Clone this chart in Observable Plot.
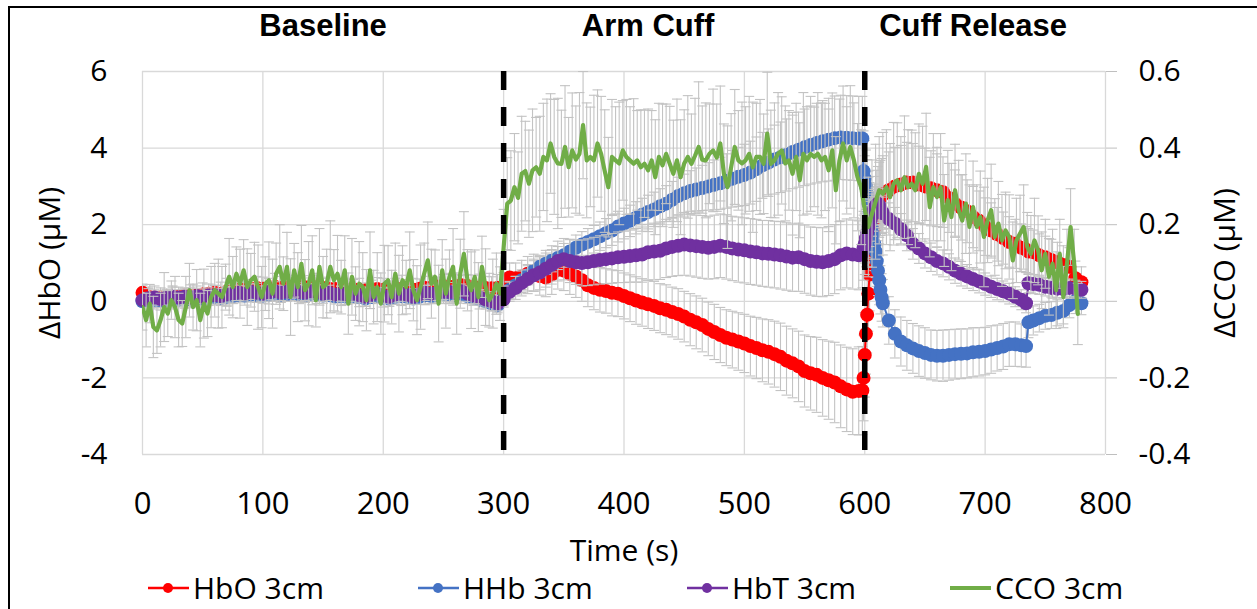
<!DOCTYPE html>
<html>
<head>
<meta charset="utf-8">
<script src="https://cdn.jsdelivr.net/npm/d3@7"></script>
<script src="https://cdn.jsdelivr.net/npm/@observablehq/plot@0.6"></script>
<style>
html,body{margin:0;padding:0;background:#fff;overflow:hidden;}
#wrap{position:relative;width:1257px;height:609px;overflow:hidden;background:#fff;}
#chart{position:absolute;left:0;top:0;}
#frame{position:absolute;left:8px;top:6px;width:1400px;height:900px;border-left:2px solid #000;border-top:2px solid #000;pointer-events:none;}
#legend{position:absolute;left:0;top:573px;width:1257px;height:34px;font-family:"Open Sans",sans-serif;font-size:30px;line-height:30px;color:#000;}
</style>
</head>
<body>
<div id="wrap"><div id="chart"></div><div id="frame"></div><div id="legend"></div></div>
<script>
// ---------- categories / ticks ----------
const xTicks = [0,100,200,300,400,500,600,700,800];
const yTicks = [-4,-2,0,2,4,6];
const phaseLabels = ["Baseline","Arm Cuff","Cuff Release"];
const phaseCenters = [150,420,690];
const eventTimes = [300,600];
const seriesNames = ["HbO 3cm","HHb 3cm","HbT 3cm","CCO 3cm"];
const seriesColors = ["#ff0000","#4472c4","#7030a0","#70ad47"];

// ---------- time (s) of haemoglobin samples ----------
const tHb = [
0,5,10,15,20,25,30,35,40,45,
50,55,60,65,70,75,80,85,90,95,
100,105,110,115,120,125,130,135,140,145,
150,155,160,165,170,175,180,185,190,195,
200,205,210,215,220,225,230,235,240,245,
250,255,260,265,270,275,280,285,290,295,
300,305,310,315,320,325,330,335,340,345,
350,355,360,365,370,375,380,385,390,395,
400,405,410,415,420,425,430,435,440,445,
450,455,460,465,470,475,480,485,490,495,
500,505,510,515,520,525,530,535,540,545,
550,555,560,565,570,575,580,585,590,595,
598,599,600,601,602,603,604,605,606,607,608,609,610,611,612,613,614,615,
620,625,630,635,640,645,650,655,660,665,670,675,680,685,690,695,700,705,710,715,720,725,730,
734,736,740,745,750,755,760,765,770,775,780];

// ---------- ΔHbO (μM) ----------
const hboVal = [
0.22,0.12,0.1,0.1,0.12,0.1,0.12,0.15,0.13,0.15,
0.18,0.2,0.22,0.2,0.25,0.28,0.3,0.3,0.32,0.35,
0.33,0.35,0.38,0.35,0.36,0.38,0.4,0.37,0.36,0.38,
0.35,0.33,0.32,0.34,0.3,0.32,0.3,0.28,0.3,0.32,
0.3,0.28,0.3,0.33,0.32,0.3,0.33,0.35,0.36,0.38,
0.4,0.38,0.4,0.42,0.4,0.38,0.36,0.35,0.34,0.35,
0.4,0.62,0.6,0.65,0.72,0.75,0.66,0.62,0.7,0.82,
0.8,0.72,0.65,0.55,0.42,0.35,0.3,0.27,0.22,0.2,
0.14,0.08,0.02,-0.03,-0.08,-0.12,-0.18,-0.22,-0.28,-0.33,
-0.4,-0.48,-0.55,-0.62,-0.72,-0.8,-0.88,-0.95,-1.0,-1.05,
-1.1,-1.17,-1.22,-1.28,-1.32,-1.38,-1.45,-1.55,-1.62,-1.7,
-1.82,-1.88,-1.92,-2.0,-2.06,-2.12,-2.22,-2.3,-2.36,-2.34,
-2.33,-2.0,-1.4,-0.85,-0.35,0.2,0.7,1.2,1.55,1.85,2.1,2.3,2.45,2.55,2.65,2.7,2.75,2.8,
2.9,3.0,3.05,3.1,3.1,3.05,3.0,2.95,2.9,2.85,2.7,2.55,2.45,2.35,2.2,2.1,1.95,1.85,1.75,1.65,1.55,1.5,1.4,
1.35,1.3,1.28,1.2,1.15,1.08,1.02,0.95,0.9,0.6,0.5];
const hboErr = [
0.2,0.25,0.3,0.25,0.2,0.3,0.25,0.2,0.3,0.25,
0.3,0.25,0.2,0.3,0.35,0.25,0.3,0.2,0.25,0.3,
0.3,0.25,0.35,0.3,0.25,0.3,0.2,0.3,0.25,0.3,
0.25,0.3,0.35,0.25,0.3,0.25,0.3,0.2,0.25,0.3,
0.3,0.25,0.3,0.35,0.25,0.3,0.25,0.3,0.3,0.25,
0.3,0.35,0.3,0.25,0.3,0.3,0.35,0.3,0.3,0.35,
0.35,0.38,0.4,0.42,0.45,0.48,0.5,0.5,0.52,0.5,
0.52,0.54,0.55,0.55,0.56,0.57,0.58,0.58,0.6,0.6,
0.6,0.61,0.62,0.62,0.63,0.64,0.64,0.65,0.65,0.66,
0.66,0.68,0.69,0.7,0.7,0.72,0.72,0.73,0.74,0.75,
0.76,0.78,0.8,0.82,0.84,0.86,0.88,0.9,0.9,0.92,
0.94,0.96,0.98,1.0,1.02,1.05,1.08,1.1,1.12,1.15,
1.15,1.12,1.1,1.05,1.0,0.98,0.95,0.95,0.95,0.95,0.96,0.96,0.97,0.97,0.98,0.98,0.98,1.0,
1.0,1.02,1.02,1.05,1.02,1.0,1.0,0.98,0.95,0.92,0.9,0.88,0.85,0.82,0.8,0.78,0.75,0.72,0.7,0.68,0.66,0.64,0.62,
0.6,0.6,0.58,0.56,0.55,0.54,0.52,0.5,0.5,0.45,0.4];

// ---------- ΔHHb (μM) ----------
const hhbVal = [
0.0,0.03,0.04,0.02,0.05,0.06,0.05,0.07,0.05,0.08,
0.07,0.09,0.1,0.09,0.12,0.14,0.16,0.15,0.18,0.17,
0.15,0.18,0.2,0.17,0.19,0.22,0.19,0.17,0.2,0.19,
0.15,0.16,0.13,0.14,0.12,0.14,0.11,0.07,0.11,0.14,
0.1,0.07,0.12,0.14,0.12,0.07,0.12,0.16,0.14,0.16,
0.19,0.18,0.16,0.2,0.14,0.1,0.05,0.0,-0.05,-0.1,
0.1,0.3,0.42,0.55,0.68,0.8,0.9,0.98,1.06,1.13,
1.2,1.3,1.4,1.48,1.55,1.62,1.7,1.78,1.85,1.95,
2.03,2.1,2.18,2.26,2.33,2.4,2.48,2.55,2.65,2.75,
2.82,2.88,2.92,2.96,3.0,3.04,3.08,3.14,3.2,3.25,
3.3,3.36,3.45,3.55,3.62,3.7,3.76,3.82,3.9,3.96,
4.02,4.08,4.13,4.18,4.22,4.26,4.28,4.27,4.26,4.25,
4.25,3.4,3.2,3.0,2.8,2.55,2.3,2.05,1.9,1.75,1.5,1.3,1.05,0.8,0.55,0.3,0.1,-0.05,
-0.5,-0.85,-1.05,-1.15,-1.23,-1.3,-1.35,-1.4,-1.42,-1.42,-1.4,-1.38,-1.37,-1.36,-1.33,-1.32,-1.3,-1.26,-1.22,-1.18,-1.12,-1.12,-1.15,
-1.17,-0.55,-0.5,-0.44,-0.38,-0.36,-0.3,-0.25,-0.1,0.0,-0.05];
const hhbErr = [
0.2,0.15,0.2,0.25,0.2,0.15,0.2,0.25,0.2,0.2,
0.25,0.2,0.15,0.2,0.25,0.2,0.2,0.25,0.2,0.15,
0.2,0.25,0.2,0.2,0.15,0.2,0.25,0.2,0.2,0.25,
0.2,0.15,0.2,0.25,0.2,0.2,0.25,0.2,0.15,0.2,
0.25,0.2,0.2,0.25,0.2,0.15,0.2,0.25,0.2,0.2,
0.25,0.2,0.2,0.25,0.2,0.2,0.25,0.2,0.2,0.2,
0.2,0.22,0.23,0.24,0.25,0.26,0.27,0.28,0.29,0.3,
0.31,0.32,0.33,0.34,0.35,0.36,0.37,0.38,0.39,0.4,
0.4,0.41,0.42,0.43,0.44,0.45,0.46,0.47,0.48,0.49,
0.5,0.53,0.56,0.59,0.62,0.65,0.68,0.71,0.74,0.77,
0.8,0.82,0.84,0.86,0.88,0.9,0.92,0.94,0.96,0.98,
1.0,1.02,1.04,1.06,1.08,1.1,1.1,1.1,1.1,1.1,
1.1,1.05,1.0,0.95,0.9,0.85,0.8,0.78,0.75,0.72,0.7,0.68,0.66,0.65,0.64,0.63,0.62,0.62,
0.62,0.63,0.64,0.65,0.65,0.66,0.66,0.65,0.66,0.67,0.66,0.65,0.65,0.64,0.64,0.63,0.62,0.62,0.6,0.6,0.58,0.58,0.56,
0.55,0.4,0.38,0.36,0.35,0.35,0.34,0.34,0.33,0.32,0.3];

// ---------- ΔHbT (μM) ----------
const hbtVal = [
0.03,0.08,0.1,0.06,0.1,0.12,0.1,0.12,0.1,0.14,
0.12,0.15,0.16,0.14,0.18,0.2,0.22,0.2,0.25,0.22,
0.2,0.24,0.26,0.22,0.25,0.28,0.24,0.22,0.26,0.25,
0.2,0.22,0.18,0.2,0.17,0.2,0.16,0.12,0.17,0.2,
0.15,0.12,0.18,0.2,0.17,0.12,0.18,0.22,0.2,0.22,
0.25,0.24,0.22,0.26,0.2,0.15,0.1,0.05,0.0,-0.05,
0.05,0.25,0.35,0.48,0.58,0.68,0.75,0.85,0.95,1.05,
1.1,1.05,1.02,1.0,1.02,1.05,1.08,1.1,1.12,1.15,
1.16,1.18,1.2,1.22,1.28,1.3,1.32,1.38,1.42,1.45,
1.48,1.46,1.44,1.42,1.4,1.42,1.45,1.42,1.38,1.35,
1.33,1.3,1.28,1.25,1.24,1.22,1.2,1.17,1.14,1.15,
1.1,1.05,1.03,1.02,1.05,1.1,1.2,1.25,1.22,1.2,
1.25,1.4,1.5,1.65,1.8,1.95,2.05,2.15,2.25,2.35,2.42,2.48,2.52,2.55,2.5,2.42,2.35,2.3,
2.15,2.03,1.88,1.72,1.5,1.38,1.25,1.15,1.05,0.99,0.9,0.8,0.72,0.65,0.58,0.52,0.45,0.38,0.32,0.26,0.2,0.12,0.04,
-0.05,0.47,0.45,0.43,0.38,0.35,0.33,0.32,0.35,0.33,0.3];
const hbtErr = [
0.2,0.25,0.2,0.15,0.2,0.25,0.2,0.2,0.25,0.2,
0.15,0.2,0.25,0.2,0.2,0.25,0.2,0.15,0.2,0.25,
0.2,0.2,0.25,0.2,0.15,0.2,0.25,0.2,0.2,0.25,
0.2,0.2,0.15,0.2,0.25,0.2,0.2,0.25,0.2,0.15,
0.2,0.25,0.2,0.2,0.25,0.2,0.15,0.2,0.25,0.2,
0.2,0.25,0.2,0.15,0.2,0.25,0.2,0.2,0.25,0.2,
0.2,0.25,0.3,0.34,0.38,0.42,0.45,0.48,0.5,0.52,
0.54,0.56,0.58,0.6,0.61,0.62,0.63,0.64,0.65,0.66,
0.67,0.68,0.7,0.72,0.73,0.74,0.75,0.76,0.77,0.78,
0.8,0.8,0.81,0.82,0.82,0.83,0.83,0.84,0.84,0.85,
0.85,0.86,0.86,0.86,0.87,0.87,0.88,0.88,0.88,0.89,
0.89,0.89,0.9,0.9,0.9,0.9,0.9,0.9,0.9,0.9,
0.9,0.85,0.8,0.75,0.7,0.66,0.62,0.58,0.55,0.52,0.5,0.48,0.46,0.45,0.44,0.43,0.42,0.42,
0.42,0.42,0.41,0.4,0.4,0.39,0.38,0.37,0.36,0.35,0.34,0.33,0.32,0.31,0.3,0.3,0.29,0.28,0.28,0.27,0.27,0.26,0.26,
0.25,0.25,0.25,0.25,0.24,0.24,0.24,0.23,0.23,0.22,0.22];

// ---------- time (s) of CCO samples ----------
const tCCO = [
0,3,6,9,12,15,18,21,24,27,30,33,36,39,42,45,48,51,54,57,
60,63,66,69,72,75,78,81,84,87,90,93,96,99,102,105,108,111,114,117,
120,123,126,129,132,135,138,141,144,147,150,153,156,159,162,165,168,171,174,177,
180,183,186,189,192,195,198,201,204,207,210,213,216,219,222,225,228,231,234,237,
240,243,246,249,252,255,258,261,264,267,270,273,276,279,282,285,288,291,294,297,
300,303,306,309,312,315,318,321,324,327,330,333,336,339,342,345,348,351,354,357,
360,363,366,369,372,375,378,381,384,387,390,393,396,399,402,405,408,411,414,417,
420,423,426,429,432,435,438,441,444,447,450,453,456,459,462,465,468,471,474,477,
480,483,486,489,492,495,498,501,504,507,510,513,516,519,522,525,528,531,534,537,
540,543,546,549,552,555,558,561,564,567,570,573,576,579,582,585,588,591,594,597,
600,603,606,609,612,615,618,621,624,627,630,633,636,639,642,645,648,651,654,657,
660,663,666,669,672,675,678,681,684,687,690,693,696,699,702,705,708,711,714,717,
720,723,726,729,732,735,738,741,744,747,750,753,756,759,762,765,768,771,774,777];

// ---------- ΔCCO (μM, right axis) ----------
const ccoVal = [
-0.015,-0.049,-0.006,-0.067,-0.076,-0.049,-0.015,-0.032,0.003,-0.015,-0.049,-0.058,-0.015,0.029,
-0.015,0.003,-0.049,-0.006,-0.032,0.011,0.029,0.02,0.011,0.037,0.064,0.037,0.072,0.046,
0.081,0.037,0.055,0.064,0.037,0.011,0.046,0.055,0.02,0.072,0.09,0.046,0.09,0.011,
0.081,0.037,0.098,0.029,0.046,0.081,0.003,0.09,0.037,0.046,0.09,0.055,0.072,0.037,
0.081,-0.006,0.064,0.02,0.046,0.037,0.003,0.081,0.011,0.037,-0.006,0.046,0.055,0.011,
0.072,0.02,0.055,0.037,0.081,0.029,0.003,0.037,0.072,0.107,0.046,0.064,-0.006,0.081,
0.02,0.064,0.09,-0.006,0.072,0.124,0.055,0.029,0.064,0.011,0.09,0.037,0.003,0.02,
0.046,0.02,
0.14,0.255,0.263,0.298,0.27,0.333,0.34,0.307,0.342,0.35,
0.333,0.377,0.368,0.412,0.377,0.36,0.359,0.403,0.35,0.394,
0.37,0.385,0.46,0.368,0.377,0.368,0.412,0.385,0.34,0.298,
0.377,0.368,0.36,0.394,0.377,0.368,0.359,0.368,0.35,0.359,
0.342,0.368,0.324,0.377,0.355,0.385,0.359,0.333,0.368,0.324,
0.36,0.377,0.359,0.38,0.403,0.37,0.368,0.385,0.394,0.375,
0.412,0.333,0.298,0.35,0.403,0.368,0.36,0.368,0.385,0.35,
0.377,0.377,0.359,0.438,0.359,0.368,0.385,0.394,0.36,0.368,
0.333,0.377,0.316,0.385,0.368,0.385,0.377,0.385,0.368,0.377,
0.342,0.394,0.29,0.368,0.412,0.368,0.403,0.368,0.324,0.298,
0.24,0.194,0.229,0.26,0.29,0.281,0.298,0.272,0.307,0.316,
0.29,0.324,0.298,0.307,0.29,0.333,0.307,0.351,0.246,0.298,
0.272,0.298,0.211,0.264,0.22,0.29,0.238,0.211,0.255,0.194,
0.246,0.194,0.22,0.168,0.211,0.238,0.168,0.203,0.159,0.185,
0.168,0.107,0.159,0.177,0.194,0.142,0.124,0.159,0.133,0.081,
0.124,0.064,0.098,0.029,0.124,0.011,0.098,0.194,0.098,-0.033];
const ccoErr = [
0.06,0.07,0.05,0.08,0.06,0.07,0.09,0.06,0.05,0.08,0.07,0.06,0.08,0.07,
0.06,0.08,0.07,0.09,0.06,0.08,0.07,0.09,0.08,0.06,0.1,0.08,0.07,0.09,
0.08,0.1,0.07,0.09,0.11,0.08,0.07,0.1,0.09,0.08,0.11,0.07,0.09,0.1,
0.07,0.09,0.1,0.08,0.11,0.09,0.07,0.1,0.08,0.09,0.12,0.08,0.1,0.07,
0.09,0.08,0.1,0.07,0.11,0.09,0.08,0.1,0.07,0.09,0.08,0.1,0.09,0.07,
0.08,0.1,0.09,0.07,0.1,0.08,0.09,0.11,0.08,0.1,0.09,0.07,0.1,0.08,
0.09,0.07,0.1,0.08,0.09,0.11,0.08,0.1,0.07,0.09,0.08,0.1,0.07,0.09,
0.08,0.07,
0.1,0.12,0.13,0.14,0.12,0.15,0.13,0.14,0.16,0.13,
0.15,0.14,0.16,0.13,0.15,0.17,0.14,0.16,0.13,0.15,
0.14,0.16,0.14,0.15,0.13,0.17,0.14,0.15,0.16,0.13,
0.15,0.14,0.16,0.13,0.15,0.14,0.17,0.13,0.15,0.14,
0.16,0.13,0.15,0.14,0.16,0.13,0.15,0.14,0.16,0.15,
0.14,0.16,0.13,0.15,0.17,0.14,0.15,0.13,0.16,0.14,
0.15,0.13,0.16,0.14,0.15,0.13,0.16,0.14,0.15,0.17,
0.14,0.15,0.13,0.16,0.14,0.15,0.16,0.14,0.15,0.13,
0.16,0.14,0.15,0.16,0.14,0.15,0.13,0.16,0.15,0.14,
0.16,0.15,0.14,0.16,0.15,0.14,0.16,0.15,0.14,0.15,
0.14,0.13,0.14,0.15,0.14,0.16,0.15,0.14,0.16,0.15,
0.14,0.16,0.15,0.14,0.15,0.13,0.15,0.14,0.13,0.14,
0.13,0.14,0.12,0.13,0.14,0.12,0.13,0.12,0.13,0.11,
0.12,0.11,0.12,0.13,0.11,0.12,0.1,0.11,0.12,0.1,
0.11,0.1,0.11,0.1,0.11,0.09,0.1,0.11,0.09,0.1,
0.09,0.1,0.09,0.1,0.09,0.08,0.09,0.1,0.09,0.08];

// ---------- checks ----------
[["hboVal",hboVal],["hboErr",hboErr],["hhbVal",hhbVal],["hhbErr",hhbErr],["hbtVal",hbtVal],["hbtErr",hbtErr]].forEach(([n,a])=>{
  if (a.length !== tHb.length) throw new Error(n+" length "+a.length+" vs "+tHb.length);
});
if (ccoVal.length !== tCCO.length || ccoErr.length !== tCCO.length) throw new Error("cco length "+ccoVal.length+"/"+ccoErr.length+" vs "+tCCO.length);

// ---------- build ----------
const CCO_FACTOR = 10; // right axis (-0.4…0.6) ↔ left axis (-4…6)
function rows(t, v, e, k) {
  return t.map((ti, i) => ({t: ti, v: v[i] * k, lo: (v[i] - e[i]) * k, hi: (v[i] + e[i]) * k}));
}
const ERR = "#c3c3c3";
const GRID = "#d9d9d9";
const cap = {draw(ctx, size) { const r = Math.sqrt(size / Math.PI); ctx.moveTo(-r, 0); ctx.lineTo(r, 0); }};
function errMarks(d) {
  return [
    Plot.ruleX(d, {x: "t", y1: "lo", y2: "hi", stroke: ERR, strokeWidth: 1.1, clip: true}),
    Plot.dot(d, {x: "t", y: "hi", symbol: cap, r: 5, fill: "none", stroke: ERR, strokeWidth: 1.1, clip: true}),
    Plot.dot(d, {x: "t", y: "lo", symbol: cap, r: 5, fill: "none", stroke: ERR, strokeWidth: 1.1, clip: true})
  ];
}

const hbData = [
  rows(tHb, hboVal, hboErr, 1),
  rows(tHb, hhbVal, hhbErr, 1),
  rows(tHb, hbtVal, hbtErr, 1)
];
const ccoData = rows(tCCO, ccoVal, ccoErr, CCO_FACTOR);

const marks = [
  Plot.gridX(xTicks, {stroke: GRID, strokeOpacity: 1, strokeWidth: 1.3}),
  Plot.gridY(yTicks, {stroke: GRID, strokeOpacity: 1, strokeWidth: 1.3})
];
hbData.forEach((d, i) => {
  marks.push(...errMarks(d));
  marks.push(Plot.line(d, {x: "t", y: "v", stroke: seriesColors[i], strokeWidth: 2}));
  marks.push(Plot.dot(d, {x: "t", y: "v", r: 7, fill: seriesColors[i], stroke: "none"}));
});
marks.push(...errMarks(ccoData));
marks.push(Plot.line(ccoData, {x: "t", y: "v", stroke: seriesColors[3], strokeWidth: 4.2, strokeLinejoin: "round", clip: true}));
marks.push(Plot.ruleX(eventTimes, {stroke: "#000", strokeWidth: 5.5, strokeDasharray: "19,17"}));

marks.push(
  Plot.axisX(xTicks, {tickSize: 0, tickPadding: 37, fontSize: 31, fill: "#000", tickFormat: d => String(d), label: null}),
  Plot.axisY(yTicks, {anchor: "left", tickSize: 0, tickPadding: 35, fontSize: 30, fill: "#000", tickFormat: d => String(d), label: null}),
  Plot.axisY(yTicks, {anchor: "right", tickSize: 11, tickPadding: 22, stroke: "#bfbfbf", fontSize: 30, fill: "#000", tickFormat: d => String(Math.round(d) / CCO_FACTOR), label: null}),
  Plot.text(phaseLabels, {x: (d, i) => phaseCenters[i], text: d => d, frameAnchor: "top", dy: -45, lineAnchor: "middle", textAnchor: "middle", fontSize: 31, fontWeight: "bold", fontFamily: "Liberation Sans, Arial, sans-serif", fill: "#000"}),
  Plot.text(["Time (s)"], {text: d => d, frameAnchor: "bottom", dy: 97, lineAnchor: "middle", textAnchor: "middle", fontSize: 30, fill: "#000"}),
  Plot.text(["ΔHbO (μM)"], {text: d => d, frameAnchor: "left", dx: -92, rotate: -90, textAnchor: "middle", lineAnchor: "middle", fontSize: 30, fill: "#000"}),
  Plot.text(["ΔCCO (μM)"], {text: d => d, frameAnchor: "right", dx: 120, rotate: -90, textAnchor: "middle", lineAnchor: "middle", fontSize: 30, fill: "#000"})
);

const chart = Plot.plot({
  width: 1257,
  height: 609,
  marginLeft: 142,
  marginRight: 152,
  marginTop: 71,
  marginBottom: 155,
  x: {domain: [0, 800], axis: null},
  y: {domain: [-4, 6], axis: null},
  style: {fontFamily: "'Open Sans', sans-serif", color: "#000", background: "transparent", overflow: "visible"},
  marks
});
document.getElementById("chart").appendChild(chart);

// ---------- legend ----------
const legendLeft = [148, 418, 687, 950];
const legend = document.getElementById("legend");
seriesNames.forEach((name, i) => {
  const item = document.createElement("div");
  item.style.cssText = `position:absolute;left:${legendLeft[i]}px;top:0;display:flex;align-items:center;white-space:nowrap;height:30px;`;
  const marker = i < 3 ? `<circle cx="20" cy="10" r="5" fill="${seriesColors[i]}"/>` : "";
  item.innerHTML = `<svg width="41" height="20" style="display:block"><line x1="0" x2="41" y1="10" y2="10" stroke="${seriesColors[i]}" stroke-width="${i === 3 ? 4 : 2.5}"/>${marker}</svg><span style="margin-left:4px">${name}</span>`;
  legend.appendChild(item);
});
</script>
</body>
</html>
